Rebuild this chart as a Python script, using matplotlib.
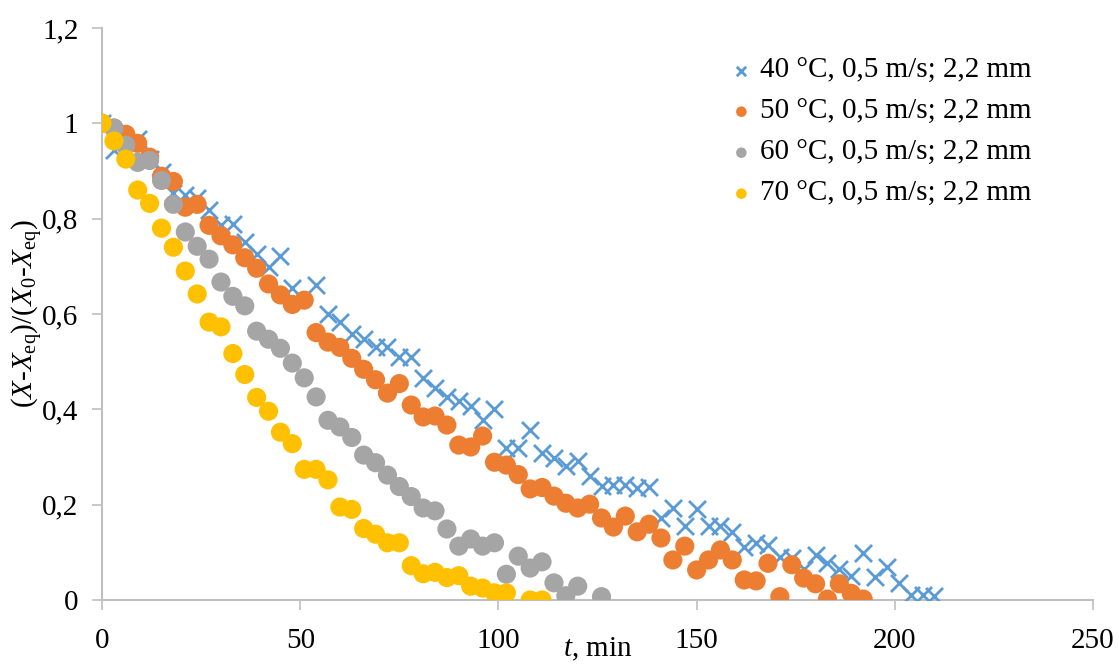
import matplotlib
matplotlib.use('Agg')
import matplotlib.pyplot as plt
from matplotlib.ticker import FuncFormatter, MultipleLocator

plt.rcParams['font.family'] = 'Liberation Serif'
plt.rcParams['mathtext.fontset'] = 'custom'
plt.rcParams['mathtext.rm'] = 'Liberation Serif'
plt.rcParams['mathtext.it'] = 'Liberation Serif:italic'

# 40 C series
t40 = [0, 3, 6, 9, 12, 15, 18, 21, 24, 27, 30, 33, 36, 39, 42, 45, 48, 54, 57, 60,
       63, 66, 69, 72, 75, 78, 81, 84, 87, 90, 93, 96, 99, 102, 105, 108, 111, 114, 117, 120,
       123, 126, 129, 132, 135, 138, 141, 144, 147, 150, 153, 156, 159, 162, 165, 168, 171, 174, 177, 180,
       183, 186, 189, 192, 195, 198, 201, 204, 207, 210]
y40 = [1.0, 0.945, 0.96, 0.968, 0.925, 0.897, 0.853, 0.849, 0.843, 0.818, 0.786, 0.789, 0.752, 0.726, 0.699, 0.722, 0.655, 0.66, 0.6, 0.583,
       0.557, 0.547, 0.531, 0.531, 0.51, 0.51, 0.465, 0.444, 0.426, 0.417, 0.408, 0.378, 0.4, 0.319, 0.319, 0.356, 0.308, 0.297, 0.282, 0.291,
       0.26, 0.24, 0.241, 0.241, 0.235, 0.237, 0.172, 0.193, 0.155, 0.191, 0.155, 0.155, 0.143, 0.112, 0.12, 0.115, 0.09, 0.088, 0.065, 0.094,
       0.077, 0.065, 0.05, 0.099, 0.049, 0.069, 0.036, 0.01, 0.01, 0.008]

# 50 C series
t50 = list(range(0, 193, 3))
y50 = [1.0, 0.99, 0.977, 0.958, 0.929, 0.889, 0.878, 0.824, 0.83, 0.786, 0.764, 0.745, 0.718, 0.696, 0.663, 0.64, 0.62, 0.629, 0.561, 0.541,
       0.53, 0.507, 0.484, 0.462, 0.434, 0.454, 0.409, 0.384, 0.386, 0.367, 0.325, 0.321, 0.344, 0.289, 0.283, 0.263, 0.233, 0.236, 0.218, 0.203,
       0.193, 0.201, 0.172, 0.153, 0.176, 0.143, 0.159, 0.13, 0.084, 0.113, 0.063, 0.084, 0.105, 0.084, 0.042, 0.04, 0.077, 0.007, 0.074, 0.046,
       0.034, 0.002, 0.034, 0.014, 0.002]

# 60 C series
t60 = list(range(0, 121, 3)) + [126]
y60 = [1.0, 0.99, 0.954, 0.918, 0.922, 0.88, 0.83, 0.772, 0.742, 0.715, 0.667, 0.637, 0.617, 0.564, 0.547, 0.528, 0.497, 0.466, 0.426, 0.377,
       0.363, 0.341, 0.304, 0.288, 0.262, 0.238, 0.217, 0.193, 0.187, 0.149, 0.113, 0.128, 0.113, 0.12, 0.054, 0.092, 0.067, 0.08, 0.036, 0.009,
       0.029, 0.007]

# 70 C series
t70 = list(range(0, 103, 3)) + [108, 111]
y70 = [1.0, 0.963, 0.925, 0.86, 0.832, 0.78, 0.74, 0.69, 0.642, 0.583, 0.573, 0.517, 0.473, 0.425, 0.396, 0.352, 0.328, 0.274, 0.274, 0.252,
       0.195, 0.19, 0.15, 0.138, 0.12, 0.12, 0.072, 0.055, 0.058, 0.047, 0.051, 0.029, 0.025, 0.015, 0.015, 0.0, 0.0]

labels = ['40 °C, 0,5 m/s; 2,2 mm', '50 °C, 0,5 m/s; 2,2 mm',
          '60 °C, 0,5 m/s; 2,2 mm', '70 °C, 0,5 m/s; 2,2 mm']

fig = plt.figure(figsize=(11.19, 6.66), dpi=100)
ax = fig.add_axes([0.0912, 0.0991, 0.8856, 0.8589])

ax.scatter(t40, y40, marker='x', s=150, linewidths=2.0, color='#5B9BD5', label=labels[0], zorder=3)
ax.scatter(t50, y50, marker='o', s=190, color='#ED7D31', edgecolors='none', label=labels[1], zorder=3)
ax.scatter(t60, y60, marker='o', s=190, color='#A5A5A5', edgecolors='none', label=labels[2], zorder=3)
ax.scatter(t70, y70, marker='o', s=190, color='#FFC000', edgecolors='none', label=labels[3], zorder=3)

ax.set_xlim(0, 250)
ax.set_ylim(0, 1.2)
ax.xaxis.set_major_locator(MultipleLocator(50))
ax.yaxis.set_major_locator(MultipleLocator(0.2))
ax.yaxis.set_major_formatter(FuncFormatter(lambda v, p: ('%g' % round(v, 2)).replace('.', ',')))

for s in ['top', 'right']:
    ax.spines[s].set_visible(False)
for s in ['left', 'bottom']:
    ax.spines[s].set_color('#BFBFBF')
    ax.spines[s].set_linewidth(1.5)
ax.tick_params(direction='out', length=7, width=1.2, color='#BFBFBF', labelsize=21)
ax.tick_params(axis='x', pad=13)
ax.tick_params(axis='y', pad=10)

ax.set_xlabel('$t$, min', fontsize=21, labelpad=-13)
ax.set_ylabel('($X$-$X_{\\mathrm{eq}}$)/($X_0$-$X_{\\mathrm{eq}}$)', fontsize=21, labelpad=-2)

leg = ax.legend(loc='upper right', bbox_to_anchor=(0.95, 0.968), frameon=False, fontsize=21,
                handlelength=0.6, handletextpad=0.35, labelspacing=0.5, markerscale=0.55, borderaxespad=0)

fig.savefig('out.png', dpi=100)
